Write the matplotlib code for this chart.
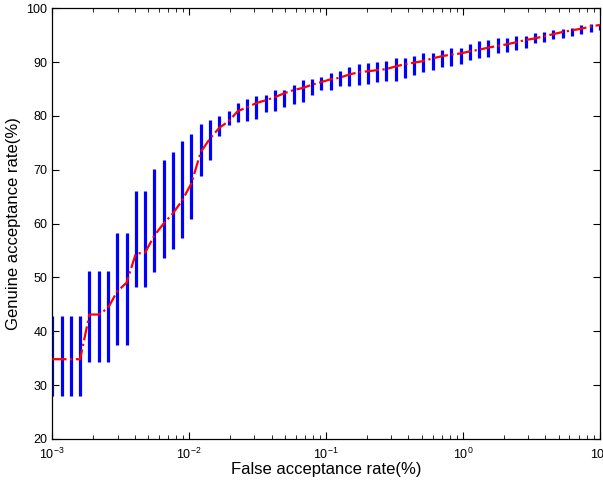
import numpy as np
import matplotlib
matplotlib.use("Agg")
import matplotlib.pyplot as plt

# False acceptance rate (%) -- 60 log-spaced operating points from 1e-3 to 1e1
far = np.logspace(-3, 1, 60)

# Genuine acceptance rate (%) -- average curve (red dash-dot)
gar_mean = [34.8, 34.8, 34.8, 34.8, 43.1, 43.1, 44.3, 47.4, 49.0, 54.4,
            54.6, 57.8, 60.0, 61.9, 64.3, 67.5, 73.3, 75.8, 77.8, 79.0,
            80.9, 81.6, 82.4, 82.9, 83.5, 84.2, 84.8, 85.2, 85.8, 86.3,
            86.8, 87.1, 87.7, 88.1, 88.3, 88.5, 88.7, 89.2, 89.6, 89.9,
            90.2, 90.7, 91.1, 91.4, 91.6, 92.0, 92.3, 92.7, 93.0, 93.3,
            93.7, 94.1, 94.4, 94.8, 95.2, 95.6, 95.9, 96.2, 96.6, 96.9]

# Lower / upper ends of the blue bars
gar_low = [27.9, 27.9, 27.9, 27.9, 34.3, 34.3, 34.3, 37.4, 37.4, 48.2,
           48.2, 51.0, 53.6, 55.2, 57.3, 60.8, 68.8, 71.9, 76.3, 78.3,
           78.9, 79.0, 79.4, 80.7, 80.9, 81.6, 82.2, 82.6, 83.9, 84.8,
           84.9, 85.5, 85.6, 85.7, 86.0, 86.3, 86.5, 86.5, 87.1, 87.6,
           88.1, 88.6, 89.0, 89.3, 89.6, 90.4, 90.8, 90.9, 91.7, 91.9,
           92.2, 92.7, 93.5, 93.8, 94.2, 94.4, 94.8, 95.3, 95.5, 95.9]
gar_high = [42.8, 42.8, 42.8, 42.8, 51.2, 51.2, 51.2, 58.2, 58.2, 66.0,
            66.0, 70.2, 71.9, 73.3, 75.3, 76.7, 78.5, 79.2, 79.9, 80.9,
            82.4, 83.2, 83.7, 83.9, 84.8, 84.9, 85.7, 86.6, 86.9, 87.3,
            88.0, 88.4, 89.0, 89.6, 89.8, 90.0, 90.2, 90.7, 90.8, 91.2,
            91.7, 91.7, 92.3, 92.6, 92.7, 93.3, 93.9, 94.1, 94.4, 94.5,
            94.8, 94.8, 95.4, 95.5, 95.9, 96.2, 96.3, 96.8, 97.0, 97.0]

plt.rcParams['font.family'] = ['Liberation Sans', 'DejaVu Sans']

fig = plt.figure(figsize=(6.03, 4.86), dpi=100)
ax = fig.add_axes([0.0867, 0.097, 0.908, 0.886])

ax.vlines(far, gar_low, gar_high, colors='#0000ff', linewidth=2.3, zorder=2)
ax.plot(far, gar_mean, color='#ff0000', linestyle='-.', linewidth=1.6, zorder=3)

ax.set_xscale('log')
ax.set_xlim(1e-3, 1e1)
ax.set_ylim(20, 100)
ax.set_yticks(np.arange(20, 101, 10))

ax.tick_params(which='both', direction='in', top=True, right=True, labelsize=9)
ax.tick_params(which='major', length=5)
ax.tick_params(which='minor', length=3)
ax.tick_params(axis='x', which='major', pad=6)
for s in ax.spines.values():
    s.set_linewidth(0.9)

ax.set_xlabel('False acceptance rate(%)', fontsize=12, labelpad=0)
ax.set_ylabel('Genuine acceptance rate(%)', fontsize=12, labelpad=4)

fig.savefig('out.png', dpi=100)
